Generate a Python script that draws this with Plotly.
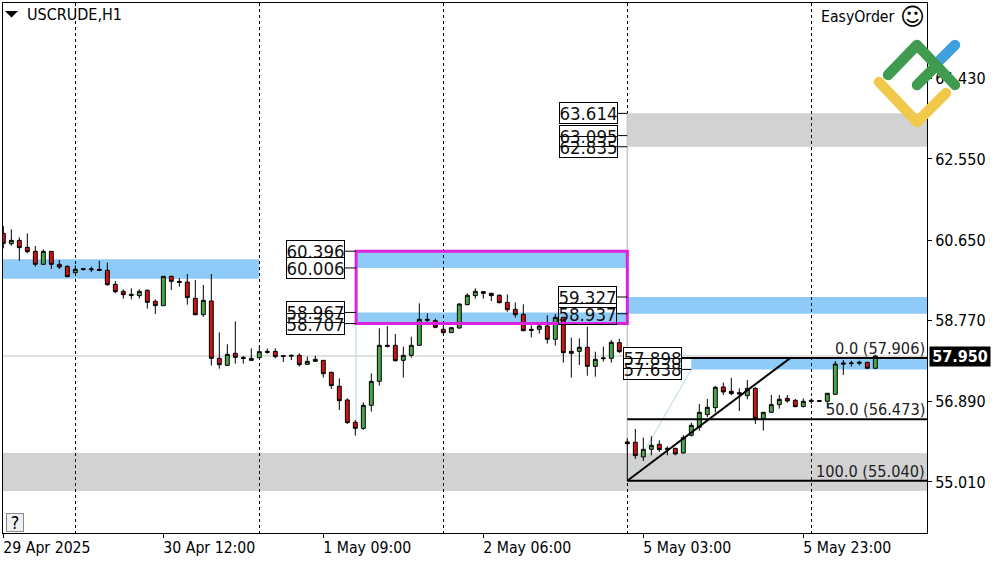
import base64
import plotly.graph_objects as go

bar_index = list(range(110))
open_ = [60.813,60.572,60.65,60.487,60.393,60.09,60.393,60.09,60.043,59.895,59.989,59.965,59.973,59.95,59.623,59.46,59.39,59.358,59.483,59.226,
 59.125,59.81,59.693,59.677,59.296,58.915,59.234,57.896,57.732,58.013,57.919,57.896,57.911,58.059,58.059,57.958,57.966,57.966,57.756,57.826,
 57.849,57.569,57.243,56.924,56.402,56.262,56.799,57.359,58.2,58.2,57.849,57.966,58.2,58.806,58.775,58.573,58.495,58.604,59.149,59.359,
 59.452,59.413,59.367,59.203,59.04,58.923,58.573,58.573,58.651,58.34,58.853,58.059,58.059,58.153,57.709,57.888,57.896,58.262,
 55.944,55.936,55.594,55.773,55.889,55.796,55.796,55.687,56.1,56.286,56.582,56.745,57.228,57.126,57.095,57.025,57.196,56.489,56.636,56.815,
 56.963,56.916,56.769,56.916,56.909,56.893,57.056,57.788,57.772,57.78,57.803,57.663]
high = [60.985,60.907,60.72,60.813,60.518,60.44,60.393,60.191,60.067,60.067,60.004,60.035,60.175,60.129,59.701,59.506,59.53,59.506,59.506,59.273,
 59.81,59.825,59.771,59.864,59.724,59.608,59.864,58.503,58.223,58.76,57.95,58.129,58.184,58.122,58.129,57.966,57.989,58.013,57.935,57.958,
 57.857,57.585,57.429,56.962,56.457,56.869,57.546,58.596,58.651,58.464,58.168,58.402,59.18,58.946,58.822,58.674,58.612,59.18,59.413,59.53,
 59.46,59.429,59.39,59.39,59.203,59.156,58.666,58.744,58.9,58.931,58.853,58.378,58.363,58.635,58.052,58.168,58.324,58.355,
 56.029,56.247,56.045,56.076,55.983,55.843,55.804,56.107,56.395,56.831,56.948,57.251,57.329,57.438,57.196,57.391,57.22,56.636,57.041,57.041,
 57.041,56.948,56.963,56.963,56.916,57.08,57.834,57.858,57.842,57.842,57.819,57.982]
low = [60.463,60.526,60.175,60.347,60.035,60.082,59.981,59.981,59.802,59.895,59.942,59.911,59.942,59.592,59.413,59.289,59.273,59.289,59.055,58.931,
 59.125,59.491,59.569,59.148,58.9,58.868,57.725,57.655,57.725,57.771,57.771,57.841,57.911,58.005,57.896,57.81,57.857,57.701,57.748,57.81,
 57.445,57.18,56.69,56.363,56.091,56.223,56.651,57.258,58.153,57.818,57.445,57.912,58.184,58.729,58.596,58.441,58.495,58.589,59.133,59.289,
 59.289,59.234,59.18,58.985,58.845,58.526,58.386,58.472,58.238,58.192,57.795,57.445,57.74,57.492,57.468,57.818,57.795,58.021,
 55.04,55.547,55.5,55.633,55.711,55.633,55.633,55.679,56.068,56.208,56.52,56.629,57.041,57.033,56.667,56.94,56.364,56.208,56.629,56.722,
 56.862,56.753,56.753,56.831,56.885,56.73,57.056,57.508,57.702,57.733,57.656,57.656]
close = [60.58,60.65,60.479,60.385,60.09,60.393,60.09,60.028,59.802,59.973,59.973,59.981,59.95,59.615,59.452,59.382,59.366,59.46,59.203,59.125,
 59.81,59.693,59.67,59.312,58.915,59.25,57.896,57.748,57.989,57.919,57.896,57.849,58.052,58.036,57.935,57.943,57.95,57.748,57.826,57.873,
 57.538,57.258,56.908,56.395,56.262,56.799,57.359,58.2,58.176,57.842,57.966,58.2,58.806,58.783,58.62,58.495,58.612,59.164,59.367,59.46,
 59.413,59.359,59.195,59.032,58.915,58.542,58.55,58.651,58.34,58.853,58.028,58.013,58.153,57.709,57.873,57.904,58.27,58.052,
 55.905,55.625,55.773,55.866,55.765,55.773,55.664,56.045,56.333,56.636,56.753,57.22,57.111,57.072,57.064,57.196,56.496,56.636,56.815,56.94,
 56.901,56.769,56.893,56.893,56.893,57.08,57.764,57.764,57.788,57.803,57.663,57.95]

price_ticks = [64.43, 62.55, 60.65, 58.77, 56.89, 55.01]
date_tick_index = [0, 20, 40, 60, 80, 100]
date_tick_labels = ["29 Apr 2025", "30 Apr 12:00", "1 May 09:00", "2 May 06:00", "5 May 03:00", "5 May 23:00"]
grid_index = [9, 32, 55, 78, 101]

# zones: start index, end index, upper price, lower price
blue_start = [-1, 44.1, 44.1, 78, 86.0]
blue_end = [32, 78, 78, 117, 117]
blue_top = [60.206, 60.396, 58.967, 59.327, 57.898]
blue_bottom = [59.755, 60.006, 58.707, 58.937, 57.638]
grey_start = [78, -1]
grey_end = [117, 117]
grey_top = [63.614, 55.687]
grey_bottom = [62.835, 54.8]

fib_levels = [57.906, 56.473, 55.04]
fib_labels = ["0.0 (57.906)", "50.0 (56.473)", "100.0 (55.040)"]
current_price = 57.95

# price label groups: label price, box right-hand bar index, zone start index
label_prices = [62.835, 63.614, 63.095, 60.396, 60.006, 58.967, 58.707, 59.327, 58.937, 57.898, 57.638]
label_right = [76.8, 76.8, 76.8, 42.7, 42.7, 42.7, 42.7, 76.7, 76.7, 84.85, 84.85]
label_target = [78, 78, 78, 44.1, 44.1, 44.1, 44.1, 78, 78, 86.0, 86.0]
label_fill = [True, True, False, True, True, True, False, True, False, True, False]

FONT = "DejaVu Sans Condensed, Noto Sans, sans-serif"
BLUE = "#8FCBF8"
GREY = "#D2D2D2"
MAGENTA = "#DD22DD"
THIN = "#B5D6E8"

PLOT_L, PLOT_R, PLOT_T, PLOT_B = 3, 927, 3, 533


def px(v):
    return (v - PLOT_L) / (PLOT_R - PLOT_L)


def py(v):
    return (PLOT_B - v) / (PLOT_B - PLOT_T)


fig = go.Figure()
fig.add_trace(go.Candlestick(
    x=bar_index, open=open_, high=high, low=low, close=close,
    increasing=dict(line=dict(color="#000000", width=1), fillcolor="#4CA64C"),
    decreasing=dict(line=dict(color="#000000", width=1), fillcolor="#CC1414"),
    whiskerwidth=0, showlegend=False, hoverinfo="skip",
))

shapes = []
for a, b, t, u in zip(grey_start, grey_end, grey_top, grey_bottom):
    shapes.append(dict(type="rect", xref="x", yref="y", x0=a, x1=b, y0=u, y1=t,
                       fillcolor=GREY, line_width=0, layer="below"))
for a, b, t, u in zip(blue_start, blue_end, blue_top, blue_bottom):
    shapes.append(dict(type="rect", xref="x", yref="y", x0=a, x1=b, y0=u, y1=t,
                       fillcolor=BLUE, line_width=0, layer="below"))
# current bid line
shapes.append(dict(type="line", xref="paper", yref="y", x0=0, x1=1, y0=current_price, y1=current_price,
                   line=dict(color="#C4C4C4", width=1), layer="below"))
# thin helper lines (the solid one covers the dashed grid line)
shapes.append(dict(type="line", xref="x", yref="y", x0=78, x1=78, y0=55.04, y1=63.614,
                   line=dict(color="#C8C8C8", width=1.5), layer="between"))
shapes.append(dict(type="line", xref="x", yref="y", x0=44.1, x1=44.1, y0=56.25, y1=58.707,
                   line=dict(color=THIN, width=1), layer="below"))
shapes.append(dict(type="line", xref="x", yref="y", x0=78, x1=86.0, y0=55.04, y1=57.638,
                   line=dict(color=THIN, width=1), layer="below"))
# fib levels and fib trend line
for level in fib_levels:
    shapes.append(dict(type="line", xref="x", yref="y", x0=78, x1=117, y0=level, y1=level,
                       line=dict(color="#000000", width=2)))
shapes.append(dict(type="line", xref="x", yref="y", x0=78, x1=98.4, y0=55.04, y1=57.906,
                   line=dict(color="#000000", width=2)))
# magenta rectangle
shapes.append(dict(type="rect", xref="x", yref="y", x0=44.1, x1=78, y0=58.707, y1=60.396,
                   line=dict(color=MAGENTA, width=3), fillcolor="rgba(0,0,0,0)"))
# connectors from label boxes
for p, r, t in zip(label_prices, label_right, label_target):
    shapes.append(dict(type="line", xref="x", yref="y", x0=r, x1=t, y0=p, y1=p,
                       line=dict(color="#000000", width=1)))
# small menu triangle
shapes.append(dict(type="path", xref="paper", yref="paper",
                   path=f"M {px(5)} {py(11)} L {px(18)} {py(11)} L {px(11.5)} {py(17.5)} Z",
                   fillcolor="#000000", line_width=0))

annotations = []
for p, r, f in zip(label_prices, label_right, label_fill):
    annotations.append(dict(x=r, y=p, xref="x", yref="y", xanchor="right", yanchor="middle",
                            text=f"{p:.3f}", showarrow=False, font=dict(family=FONT, size=18.5, color="#111111"),
                            bgcolor="#FFFFFF" if f else "rgba(0,0,0,0)", bordercolor="#000000",
                            borderwidth=1, borderpad=0, width=57, height=20))
for level, text in zip(fib_levels, fib_labels):
    annotations.append(dict(x=1, y=level, xref="paper", yref="y", xanchor="right", yanchor="bottom",
                            text=text, showarrow=False, font=dict(family=FONT, size=16.2, color="#222222"),
                            yshift=-2))
annotations.append(dict(x=px(25), y=py(15), xref="paper", yref="paper", xanchor="left", yanchor="middle",
                        text="USCRUDE,H1", showarrow=False, font=dict(family=FONT, size=16, color="#000000")))
annotations.append(dict(x=px(897), y=py(17), xref="paper", yref="paper", xanchor="right", yanchor="middle",
                        text="EasyOrder", showarrow=False, font=dict(family=FONT, size=15.7, color="#000000")))
annotations.append(dict(x=px(912), y=py(17), xref="paper", yref="paper", xanchor="center", yanchor="middle",
                        text="☺", showarrow=False, font=dict(family="DejaVu Sans", size=24, color="#000000")))
annotations.append(dict(x=px(15), y=py(522.5), xref="paper", yref="paper", xanchor="center", yanchor="middle",
                        text="?", showarrow=False, font=dict(family=FONT, size=18, color="#000000"),
                        bgcolor="#F0F0F0", bordercolor="#8A8A8A", borderwidth=1, borderpad=0, width=16, height=17))
annotations.append(dict(x=px(929), y=current_price, xref="paper", yref="y", xanchor="left", yanchor="middle",
                        text="<b>57.950</b>", showarrow=False, font=dict(family=FONT, size=16, color="#FFFFFF"),
                        bgcolor="#000000", borderpad=0, width=60, height=19))

logo_svg = """<svg xmlns='http://www.w3.org/2000/svg' viewBox='870 35 95 95' width='95' height='95'>
<g fill='none' stroke-linecap='round' stroke-linejoin='round' stroke-width='10.5'>
<polyline points='938,62 955,45' stroke='#3FA0E0'/>
<polyline points='879,82 917,122 946,93' stroke='#F0C94A'/>
<polyline points='888,75 917,45 955,85' stroke='#3F9B4F'/>
<polyline points='917,85 935,67' stroke='#3F9B4F'/>
</g></svg>"""
logo_uri = "data:image/svg+xml;base64," + base64.b64encode(logo_svg.encode()).decode()

fig.update_layout(
    width=1000, height=562,
    margin=dict(l=PLOT_L, r=1000 - PLOT_R, t=PLOT_T, b=562 - PLOT_B, pad=0),
    paper_bgcolor="#FFFFFF", plot_bgcolor="#FFFFFF",
    showlegend=False, boxgap=0.3,
    shapes=shapes, annotations=annotations,
    images=[dict(source=logo_uri, xref="paper", yref="paper", x=px(870), y=py(35),
                 sizex=95 / (PLOT_R - PLOT_L), sizey=95 / (PLOT_B - PLOT_T),
                 xanchor="left", yanchor="top", sizing="stretch", layer="above")],
    xaxis=dict(range=[-0.04, 115.46], rangeslider=dict(visible=False), showgrid=False, zeroline=False,
               tickmode="array", tickvals=date_tick_index, ticktext=date_tick_labels,
               ticks="outside", ticklen=4, tickcolor="#000000", ticklabelposition="outside right",
               ticklabelshift=-1,
               tickfont=dict(family=FONT, size=15.7, color="#000000"),
               showline=True, linecolor="#000000", linewidth=1, mirror=True,
               minor=dict(tickmode="array", tickvals=grid_index, showgrid=True, gridcolor="#000000",
                          griddash="3px,3px", gridwidth=1, ticks="")),
    yaxis=dict(range=[53.819, 66.19], side="right", showgrid=False, zeroline=False,
               tickmode="array", tickvals=price_ticks, tickformat=".3f",
               ticks="outside", ticklen=4, tickcolor="#000000",
               tickfont=dict(family=FONT, size=16, color="#000000"),
               showline=True, linecolor="#000000", linewidth=1, mirror=True),
)

fig.write_html("out.html", config=dict(displayModeBar=False),
               post_script="document.body.style.margin='0';document.documentElement.style.overflow='hidden';")
